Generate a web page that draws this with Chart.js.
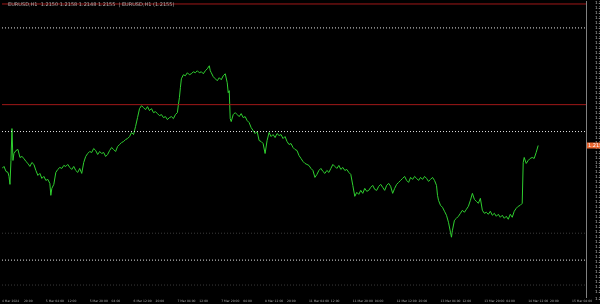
<!DOCTYPE html>
<html>
<head>
<meta charset="utf-8">
<script src="https://cdn.jsdelivr.net/npm/chart.js@4.4.1/dist/chart.umd.min.js"></script>
<style>
  html,body{margin:0;padding:0;background:#000;}
  #wrap{position:relative;width:600px;height:304px;}
  #hdr{position:absolute;left:8px;top:1px;font:5px "DejaVu Sans",sans-serif;color:#aaa;white-space:nowrap;}
</style>
</head>
<body>
<div id="wrap">
<canvas id="c" width="600" height="304"></canvas>
<div id="hdr">EURUSD,H1&nbsp; 1.2150 1.2158 1.2148 1.2155&nbsp; | EURUSD,H1 (1.2155)</div>
</div>
<script>
const barIndex = [0,2,4,6,7,8,9,10,11,12,14,16,18,20,22,24,26,28,30,32,34,36,38,40,42,44,46,48,49,50,52,54,56,58,60,62,64,66,68,70,72,74,76,78,80,82,84,86,88,90,92,94,96,98,100,102,104,106,108,110,112,114,116,118,120,122,124,126,128,130,132,134,136,138,140,142,144,146,148,150,152,154,156,158,160,162,164,166,168,170,172,174,176,177,178,179,180,182,184,186,188,190,192,194,196,198,200,202,204,206,208,209,210,212,214,216,218,220,222,224,226,227,228,229,230,232,234,236,238,240,242,244,246,248,250,252,254,256,258,260,262,264,266,268,270,272,274,276,278,280,282,284,286,288,290,292,294,296,298,300,302,304,306,308,310,312,314,316,318,320,322,324,326,328,330,332,334,336,338,340,342,344,346,348,350,352,354,356,358,360,362,364,366,368,370,372,374,376,378,380,382,384,386,388,390,392,394,396,398,400,402,404,406,408,410,412,414,416,418,420,422,424,426,428,430,432,434,436,437,438,440,442,444,446,448,450,451,452,454,456,458,460,462,464,466,468,470,472,474,476,478,480,482,484,486,488,490,492,494,496,498,500,502,504,506,508,510,512,514,516,518,520,522,523,524,526,528,530,532,534,536,538];
const closePrice = [1.2132,1.2134,1.2129,1.2128,1.2124,1.2116,1.2140,1.2172,1.2140,1.2147,1.2150,1.2151,1.2143,1.2144,1.2142,1.2139,1.2137,1.2134,1.2138,1.2136,1.2130,1.2125,1.2127,1.2122,1.2124,1.2120,1.2121,1.2117,1.2105,1.2112,1.2116,1.2128,1.2131,1.2133,1.2132,1.2135,1.2134,1.2136,1.2133,1.2131,1.2134,1.2130,1.2128,1.2132,1.2127,1.2138,1.2144,1.2147,1.2149,1.2148,1.2152,1.2150,1.2146,1.2149,1.2147,1.2148,1.2144,1.2146,1.2150,1.2153,1.2151,1.2149,1.2154,1.2156,1.2158,1.2159,1.2161,1.2162,1.2164,1.2168,1.2166,1.2174,1.2183,1.2192,1.2195,1.2193,1.2191,1.2194,1.2190,1.2192,1.2188,1.2189,1.2187,1.2185,1.2186,1.2183,1.2184,1.2181,1.2183,1.2184,1.2182,1.2186,1.2188,1.2196,1.2203,1.2213,1.2222,1.2226,1.2225,1.2228,1.2226,1.2227,1.2229,1.2228,1.2230,1.2228,1.2229,1.2227,1.2230,1.2232,1.2235,1.2230,1.2228,1.2224,1.2222,1.2220,1.2223,1.2221,1.2225,1.2227,1.2218,1.2208,1.2210,1.2182,1.2179,1.2186,1.2188,1.2186,1.2184,1.2187,1.2183,1.2184,1.2180,1.2178,1.2173,1.2170,1.2167,1.2169,1.2160,1.2159,1.2157,1.2147,1.2160,1.2168,1.2164,1.2166,1.2163,1.2167,1.2165,1.2166,1.2162,1.2164,1.2159,1.2156,1.2157,1.2153,1.2151,1.2150,1.2145,1.2142,1.2139,1.2137,1.2136,1.2135,1.2132,1.2130,1.2123,1.2126,1.2130,1.2132,1.2129,1.2127,1.2130,1.2128,1.2132,1.2136,1.2134,1.2132,1.2135,1.2131,1.2133,1.2130,1.2131,1.2128,1.2126,1.2115,1.2104,1.2108,1.2106,1.2110,1.2107,1.2112,1.2109,1.2110,1.2113,1.2115,1.2111,1.2110,1.2114,1.2116,1.2113,1.2110,1.2115,1.2117,1.2114,1.2107,1.2112,1.2116,1.2118,1.2120,1.2122,1.2124,1.2120,1.2118,1.2123,1.2121,1.2124,1.2122,1.2120,1.2123,1.2121,1.2124,1.2122,1.2119,1.2121,1.2123,1.2120,1.2115,1.2105,1.2100,1.2095,1.2093,1.2089,1.2085,1.2078,1.2068,1.2063,1.2070,1.2080,1.2082,1.2084,1.2087,1.2090,1.2088,1.2091,1.2094,1.2100,1.2107,1.2101,1.2099,1.2097,1.2102,1.2090,1.2087,1.2088,1.2086,1.2089,1.2085,1.2087,1.2084,1.2086,1.2083,1.2085,1.2082,1.2084,1.2081,1.2086,1.2083,1.2089,1.2092,1.2094,1.2095,1.2097,1.2138,1.2143,1.2137,1.2140,1.2142,1.2143,1.2142,1.2148,1.2155];
const redLevels = [1.2297, 1.2196];
const dottedLevels = [1.2273, 1.2169, 1.2040];
const faintLevels = [1.2067, 1.2015];
const timeLabels = ["4 Mar 2024","20:00","5 Mar 04:00","12:00","5 Mar 20:00","04:00","6 Mar 12:00","20:00","7 Mar 04:00","12:00","7 Mar 20:00","04:00","8 Mar 12:00","20:00","11 Mar 04:00","12:00","11 Mar 20:00","04:00","12 Mar 12:00","20:00","13 Mar 04:00","12:00","13 Mar 20:00","04:00","14 Mar 12:00","20:00","15 Mar 04:00"];
const xMax = 586, yMin = 1.2003, yMax = 1.2300, tickStep = 22;

const pricePts = barIndex.map((x,i)=>({x, y: closePrice[i]}));
const levelSet = (levels, color, dash) => levels.map(v => ({
  data:[{x:0,y:v},{x:xMax,y:v}], borderColor:color, borderWidth:1, borderDash:dash,
  pointRadius:0, fill:false, tension:0, clip:false
}));
const datasets = [
  ...levelSet(faintLevels,'#3a3a3a',[1,2]),
  ...levelSet(dottedLevels,'#e6e6e6',[1,2]),
  ...levelSet(redLevels,'#a01818',[]),
  {data:pricePts, borderColor:'#2fcf2f', borderWidth:1, pointRadius:0, fill:false, tension:0}
];

const lastPricePlugin = {
  id:'lastPrice',
  afterDraw(chart){
    const {ctx, chartArea, scales} = chart;
    const v = closePrice[closePrice.length-1];
    const y = scales.y.getPixelForValue(v);
    ctx.save();
    ctx.fillStyle = '#e8652f';
    ctx.fillRect(chartArea.right+1, y-3, 14, 6);
    ctx.fillStyle = '#fff';
    ctx.font = '5px "DejaVu Sans"';
    ctx.textBaseline = 'middle';
    ctx.fillText(v.toFixed(4), chartArea.right+2, y);
    ctx.restore();
  }
};

new Chart(document.getElementById('c'), {
  type:'line',
  data:{datasets},
  plugins:[lastPricePlugin],
  options:{
    responsive:false, animation:false,
    layout:{padding:{left:-12, right:0, top:0, bottom:0}},
    plugins:{legend:{display:false}, tooltip:{enabled:false}},
    scales:{
      x:{type:'linear', min:0, max:xMax, offset:false, display:true,
        grid:{display:false, drawTicks:false}, border:{display:false},
        afterFit(a){a.height = 7;},
        ticks:{display:true, stepSize:tickStep, autoSkip:false, maxRotation:0, minRotation:0, padding:2, align:'start', color:'#a8a8a8',
          font:{size:3, family:'DejaVu Sans'},
          callback:(v)=>timeLabels[Math.round(v/tickStep)] || ''}
      },
      y:{type:'linear', position:'right', min:yMin, max:yMax,
        grid:{display:false}, border:{display:true, color:'#808080'},
        afterFit(a){a.width = 14;},
        ticks:{stepSize:0.0005, autoSkip:false, padding:1, align:'start', color:'#c0c0c0',
          font:{size:4, family:'DejaVu Sans'},
          callback:(v)=>v.toFixed(4)}
      }
    }
  }
});
</script>
</body>
</html>
